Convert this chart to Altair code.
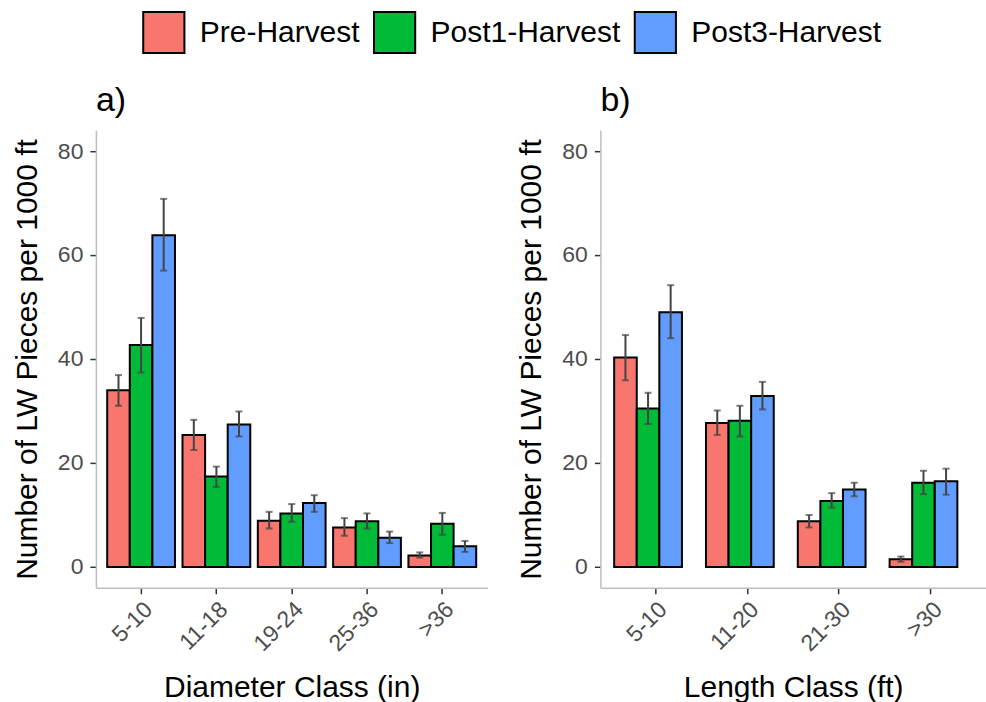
import altair as alt
import pandas as pd

groups = ["Pre-Harvest", "Post1-Harvest", "Post3-Harvest"]
colors = ["#F8766D", "#00BA38", "#619CFF"]

diam_classes = ["5-10", "11-18", "19-24", "25-36", ">36"]
diam_pre = [34.0, 25.4, 8.9, 7.6, 2.2]
diam_pre_lo = [31.0, 22.5, 7.4, 6.0, 1.8]
diam_pre_hi = [36.9, 28.3, 10.6, 9.4, 2.8]
diam_post1 = [42.7, 17.4, 10.3, 8.8, 8.3]
diam_post1_lo = [37.4, 15.4, 8.7, 7.4, 6.2]
diam_post1_hi = [47.9, 19.3, 12.1, 10.3, 10.4]
diam_post3 = [63.8, 27.4, 12.3, 5.6, 4.0]
diam_post3_lo = [57.0, 25.1, 10.6, 4.6, 2.9]
diam_post3_hi = [70.8, 29.9, 13.8, 6.8, 5.0]

len_classes = ["5-10", "11-20", "21-30", ">30"]
len_pre = [40.3, 27.7, 8.8, 1.5]
len_pre_lo = [35.9, 25.4, 7.6, 1.0]
len_pre_hi = [44.6, 30.1, 10.0, 2.0]
len_post1 = [30.5, 28.1, 12.7, 16.2]
len_post1_lo = [27.5, 25.1, 11.4, 14.0]
len_post1_hi = [33.5, 31.0, 14.2, 18.5]
len_post3 = [49.0, 32.9, 14.9, 16.5]
len_post3_lo = [44.0, 30.3, 13.6, 13.9]
len_post3_hi = [54.2, 35.6, 16.2, 18.9]

y_ticks = [0, 20, 40, 60, 80]
FONT = "Liberation Sans"
Y_TITLE = "Number of LW Pieces per 1000 ft"


def make_df(classes, series):
    rows = []
    for g, (vals, lo, hi) in zip(groups, series):
        for c, v, l, h in zip(classes, vals, lo, hi):
            rows.append({"cls": c, "group": g, "value": v, "lo": l, "hi": h})
    return pd.DataFrame(rows)


df_a = make_df(diam_classes, [(diam_pre, diam_pre_lo, diam_pre_hi),
                              (diam_post1, diam_post1_lo, diam_post1_hi),
                              (diam_post3, diam_post3_lo, diam_post3_hi)])
df_b = make_df(len_classes, [(len_pre, len_pre_lo, len_pre_hi),
                             (len_post1, len_post1_lo, len_post1_hi),
                             (len_post3, len_post3_lo, len_post3_hi)])


def panel(df, classes, xtitle, tag, width):
    x = alt.X("cls:N", sort=classes, title=xtitle,
              scale=alt.Scale(paddingInner=0.1, paddingOuter=0.15),
              axis=alt.Axis(labelAngle=-45, labelAlign="right", labelBaseline="top",
                            labelPadding=4, titlePadding=17))
    xo = alt.XOffset("group:N", sort=groups, scale=alt.Scale(domain=groups, paddingInner=0, paddingOuter=0))
    yscale = alt.Scale(domain=[-4, 84], nice=False, zero=False)
    yaxis = alt.Axis(values=y_ticks, title=Y_TITLE, labelPadding=7, titlePadding=15)
    y = alt.Y("value:Q", scale=yscale, axis=yaxis, title=Y_TITLE)
    color = alt.Color("group:N", sort=groups, scale=alt.Scale(domain=groups, range=colors),
                      legend=alt.Legend(orient="none", legendX=46, legendY=-120,
                                        direction="horizontal", title=None,
                                        symbolType="square", symbolSize=1700,
                                        symbolStrokeColor="black", symbolStrokeWidth=2,
                                        symbolOpacity=1, labelFontSize=30, labelFont=FONT,
                                        labelColor="black", labelOffset=14, columnPadding=9,
                                        labelLimit=400))
    bars = alt.Chart(df).mark_bar(stroke="black", strokeWidth=2, opacity=1).encode(
        x=x, xOffset=xo, y=y, y2=alt.datum(0), color=color)
    err = alt.Chart(df).mark_rule(color="#444444", strokeWidth=2).encode(
        x=x, xOffset=xo, y=alt.Y("lo:Q", scale=yscale, axis=yaxis, title=Y_TITLE), y2="hi:Q")
    cap_lo = alt.Chart(df).mark_tick(color="#444444", thickness=2, size=7).encode(
        x=x, xOffset=xo, y=alt.Y("lo:Q", scale=yscale, axis=yaxis, title=Y_TITLE))
    cap_hi = alt.Chart(df).mark_tick(color="#444444", thickness=2, size=7).encode(
        x=x, xOffset=xo, y=alt.Y("hi:Q", scale=yscale, axis=yaxis, title=Y_TITLE))
    return alt.layer(bars, err, cap_lo, cap_hi).properties(
        width=width, height=458,
        title=alt.TitleParams(tag, anchor="start", frame="group", fontSize=34,
                              fontWeight="normal", font=FONT, color="black", offset=12))


chart = alt.hconcat(
    panel(df_a, diam_classes, "Diameter Class (in)", "a)", 392),
    panel(df_b, len_classes, "Length Class (ft)", "b)", 386),
    spacing=29,
).properties(
    padding={"left": 12, "top": 10, "right": 0, "bottom": 0},
    background="white",
).configure_view(stroke=None).configure_axis(
    grid=False,
    domainColor="#BEBEBE", domainWidth=1.5,
    tickColor="#333333", tickWidth=1.5, tickSize=6,
    labelColor="#4D4D4D", labelFontSize=23, labelFont=FONT,
    titleColor="black", titleFontSize=30, titleFont=FONT, titleFontWeight="normal",
)

chart.save("out.html", embed_options={"renderer": "svg", "actions": False})
